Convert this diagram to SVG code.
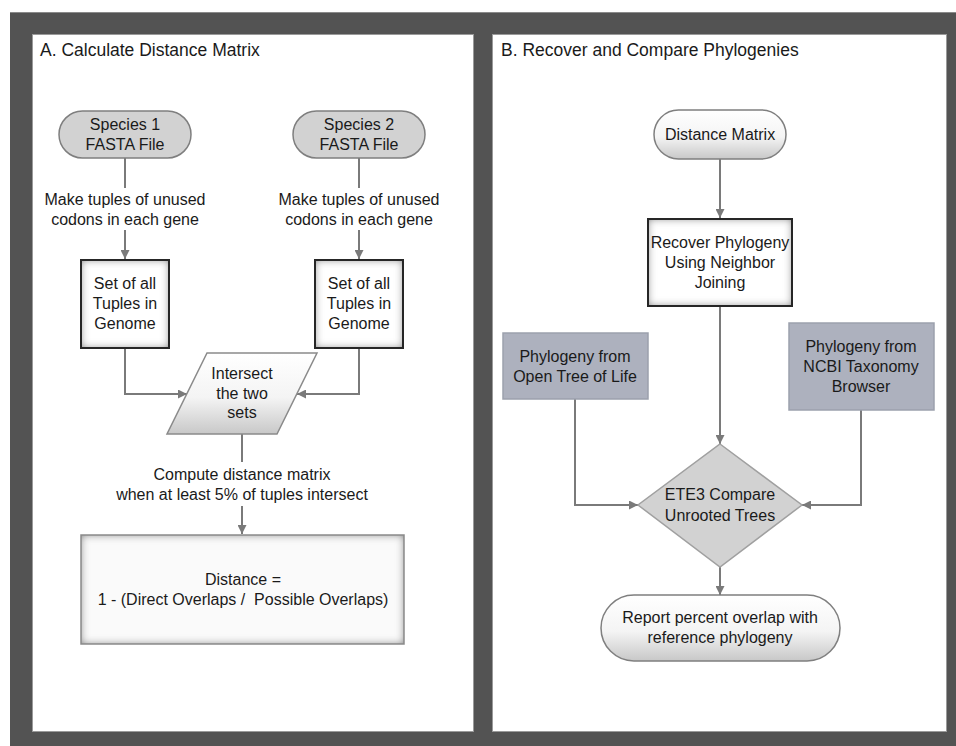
<svg xmlns="http://www.w3.org/2000/svg" width="956" height="746" viewBox="0 0 956 746">
<defs>
<style>
.t{font-family:"Liberation Sans",Arial,sans-serif;font-size:16px;fill:#1a1a1a;text-anchor:middle}
.title{font-family:"Liberation Sans",Arial,sans-serif;font-size:17.5px;fill:#1a1a1a}
.c{fill:none;stroke:#7a7a7a;stroke-width:2}
.ca{fill:none;stroke:#7a7a7a;stroke-width:2;marker-end:url(#ah)}
.panel{fill:#ffffff;stroke:#9a9a9a;stroke-width:1}
.oval{fill:#d2d2d2;stroke:#7f7f7f;stroke-width:1.5}
.gloss{fill:url(#gl);stroke:#7f7f7f;stroke-width:1.5}
.blue{fill:#adb1be;stroke:#9ca1ad;stroke-width:1.5}
</style>
<linearGradient id="gl" x1="0" y1="0" x2="0" y2="1">
<stop offset="0" stop-color="#ffffff"/>
<stop offset="0.55" stop-color="#f4f4f4"/>
<stop offset="1" stop-color="#c8c8c8"/>
</linearGradient>
<filter id="inset" x="-20%" y="-20%" width="140%" height="140%">
<feFlood flood-color="#5e5e5e" result="fl"/>
<feComposite in="fl" in2="SourceAlpha" operator="out" result="inv"/>
<feGaussianBlur in="inv" stdDeviation="4.5" result="bl"/>
<feComposite in="bl" in2="SourceAlpha" operator="in" result="sh"/>
<feMerge><feMergeNode in="SourceGraphic"/><feMergeNode in="sh"/></feMerge>
</filter>
<marker id="ah" viewBox="0 0 10 10" refX="10" refY="5" markerWidth="9" markerHeight="9" markerUnits="userSpaceOnUse" orient="auto">
<path d="M0,0 L10,5 L0,10 z" fill="#7a7a7a"/>
</marker>
</defs>

<rect x="0" y="0" width="956" height="746" fill="#ffffff"/>
<rect x="10" y="12" width="946" height="734" fill="#535353"/>
<line x1="10" y1="12.5" x2="956" y2="12.5" stroke="#8a8a8a" stroke-width="1"/>
<rect class="panel" x="32.5" y="34.5" width="441" height="697"/>
<rect class="panel" x="492.5" y="34.5" width="454" height="697"/>
<text class="title" x="40" y="56">A. Calculate Distance Matrix</text>
<text class="title" x="501" y="56">B. Recover and Compare Phylogenies</text>

<g id="connectors">
<path class="c" d="M125,158 V188"/>
<path class="ca" d="M125,230 V259"/>
<path class="c" d="M359,158 V188"/>
<path class="ca" d="M359,230 V259"/>
<path class="ca" d="M125,349 V394 H187"/>
<path class="ca" d="M359,349 V394 H297"/>
<path class="c" d="M242,434 V462"/>
<path class="ca" d="M242,506 V534"/>
<path class="ca" d="M720,159 V218"/>
<path class="ca" d="M720,306 V444"/>
<path class="ca" d="M575,399 V505 H638"/>
<path class="ca" d="M861,410 V505 H802"/>
<path class="ca" d="M720,567 V595"/>
</g>

<g id="species1">
<rect class="oval" x="59" y="111" width="132" height="47" rx="23.5"/>
<text class="t" x="125" y="130">Species 1</text>
<text class="t" x="125" y="150">FASTA File</text>
</g>
<g id="species2">
<rect class="oval" x="293" y="111" width="132" height="47" rx="23.5"/>
<text class="t" x="359" y="130">Species 2</text>
<text class="t" x="359" y="150">FASTA File</text>
</g>
<g id="label1">
<text class="t" x="125" y="205">Make tuples of unused</text>
<text class="t" x="125" y="225">codons in each gene</text>
</g>
<g id="label2">
<text class="t" x="359" y="205">Make tuples of unused</text>
<text class="t" x="359" y="225">codons in each gene</text>
</g>
<g id="set1">
<rect x="81" y="260" width="88" height="88" fill="#ffffff" filter="url(#inset)"/>
<rect x="81" y="260" width="88" height="88" fill="none" stroke="#262626" stroke-width="2"/>
<text class="t" x="125" y="289">Set of all</text>
<text class="t" x="125" y="309">Tuples in</text>
<text class="t" x="125" y="329">Genome</text>
</g>
<g id="set2">
<rect x="315" y="260" width="88" height="88" fill="#ffffff" filter="url(#inset)"/>
<rect x="315" y="260" width="88" height="88" fill="none" stroke="#262626" stroke-width="2"/>
<text class="t" x="359" y="289">Set of all</text>
<text class="t" x="359" y="309">Tuples in</text>
<text class="t" x="359" y="329">Genome</text>
</g>
<g id="intersect">
<polygon points="207,353 317,353 277,434 167,434" fill="url(#gl)" stroke="#8a8a8a" stroke-width="1.5"/>
<text class="t" x="242" y="379">Intersect</text>
<text class="t" x="242" y="399">the two</text>
<text class="t" x="242" y="418">sets</text>
</g>
<g id="label3">
<text class="t" x="242" y="480">Compute distance matrix</text>
<text class="t" x="242" y="500">when at least 5% of tuples intersect</text>
</g>
<g id="distance">
<rect x="81" y="535" width="323" height="109" fill="#fafafa" filter="url(#inset)"/>
<rect x="81" y="535" width="323" height="109" fill="none" stroke="#8a8a8a" stroke-width="1.5"/>
<text class="t" x="243" y="585">Distance =</text>
<text class="t" x="243" y="605" xml:space="preserve">1 - (Direct Overlaps /  Possible Overlaps)</text>
</g>

<g id="distmatrix">
<rect class="gloss" x="654" y="110" width="132" height="49" rx="24.5"/>
<text class="t" x="720" y="140">Distance Matrix</text>
</g>
<g id="recover">
<rect x="648" y="219" width="144" height="87" fill="#ffffff" filter="url(#inset)"/>
<rect x="648" y="219" width="144" height="87" fill="none" stroke="#262626" stroke-width="2"/>
<text class="t" x="720" y="248">Recover Phylogeny</text>
<text class="t" x="720" y="268">Using Neighbor</text>
<text class="t" x="720" y="288">Joining</text>
</g>
<g id="opentree">
<rect class="blue" x="503" y="333" width="145" height="66"/>
<text class="t" x="575" y="362">Phylogeny from</text>
<text class="t" x="575" y="382">Open Tree of Life</text>
</g>
<g id="ncbi">
<rect class="blue" x="789" y="323" width="145" height="87"/>
<text class="t" x="861" y="352">Phylogeny from</text>
<text class="t" x="861" y="372">NCBI Taxonomy</text>
<text class="t" x="861" y="392">Browser</text>
</g>
<g id="ete3">
<polygon points="720,444 802,505 720,567 638,505" fill="#d2d2d2" stroke="#a0a0a0" stroke-width="1.5"/>
<text class="t" x="720" y="500">ETE3 Compare</text>
<text class="t" x="720" y="521">Unrooted Trees</text>
</g>
<g id="report">
<rect class="gloss" x="601" y="595" width="239" height="66" rx="33"/>
<text class="t" x="720" y="623">Report percent overlap with</text>
<text class="t" x="720" y="643">reference phylogeny</text>
</g>
</svg>
